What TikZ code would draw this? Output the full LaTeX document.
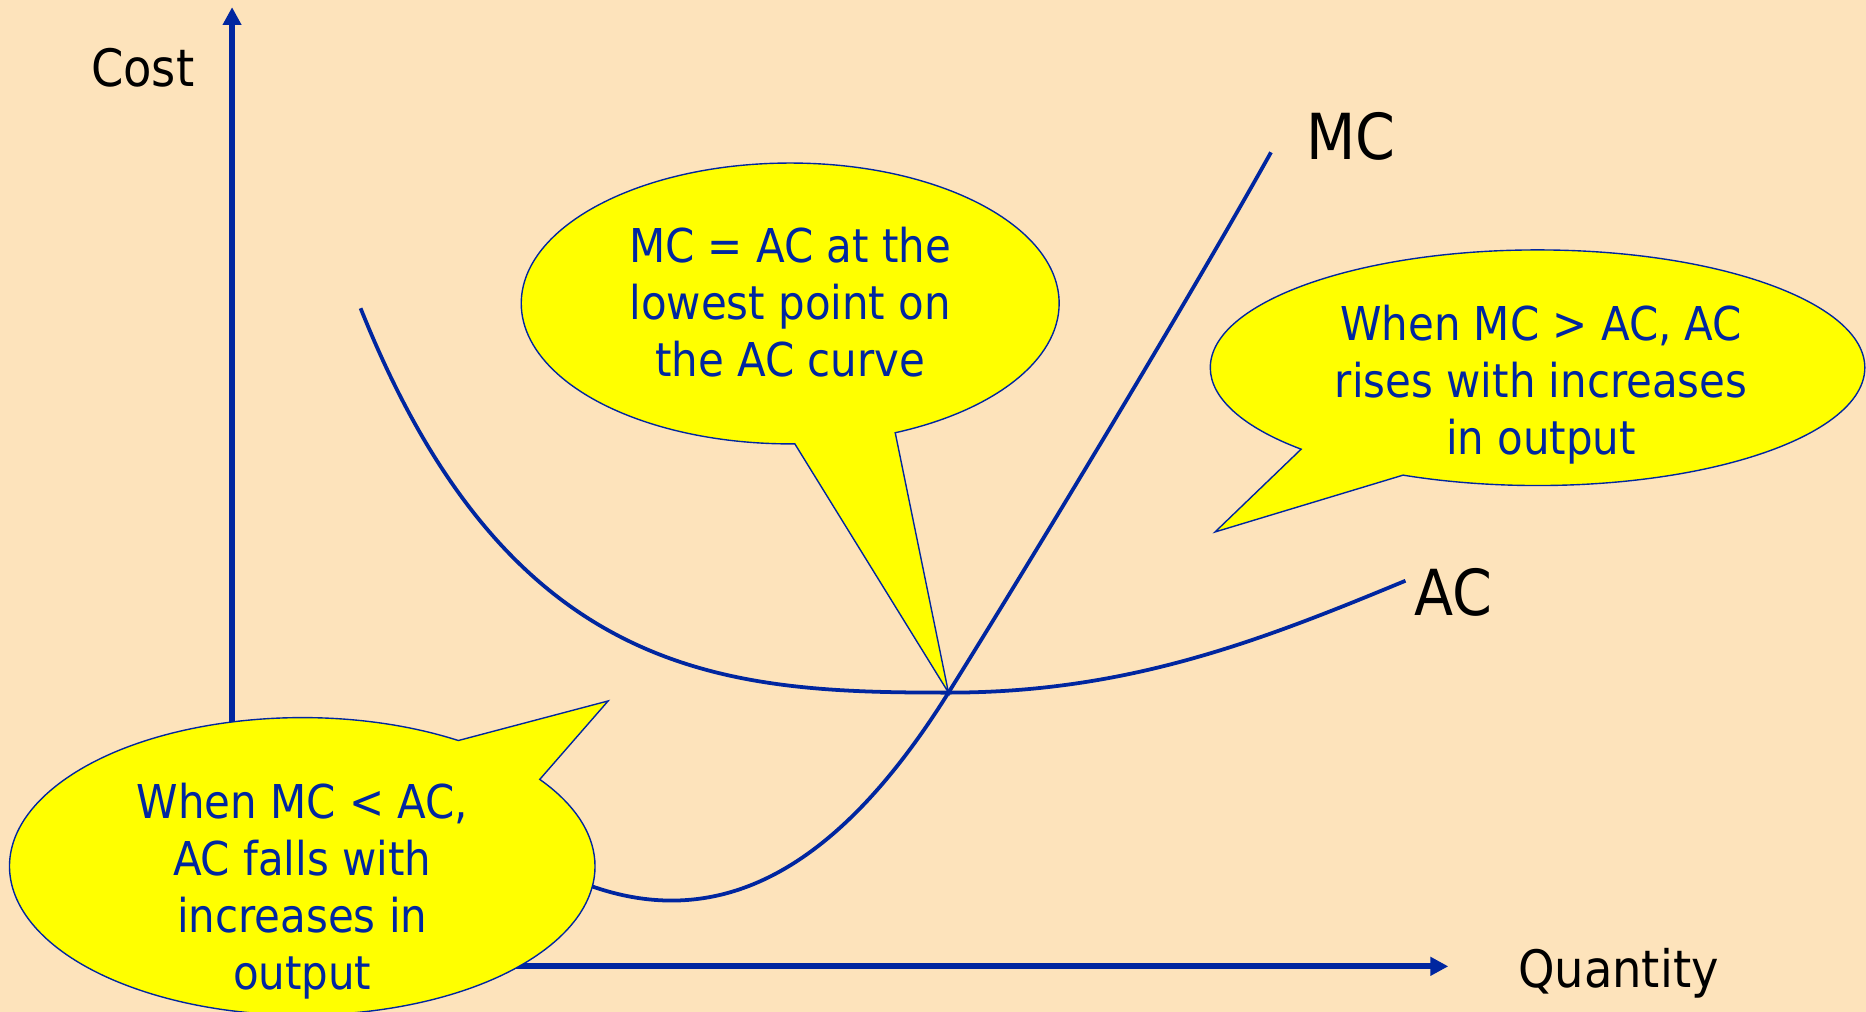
\documentclass[tikz,border=0pt]{standalone}
\usepackage{fontspec}
\setmainfont{DejaVu Sans Condensed}
\definecolor{peach}{RGB}{253,227,187}
\definecolor{inkblue}{RGB}{0,38,160}
\definecolor{calloutyellow}{RGB}{255,255,0}
\usetikzlibrary{arrows.meta,shapes.callouts}

\tikzset{
  axis line/.style={draw=inkblue, line width=3pt, -{Triangle[width=9pt,length=9pt]}},
  cost curve/.style={draw=inkblue, line width=1.9pt},
  bubble/.style={ellipse callout, draw=inkblue, line width=0.7pt, fill=calloutyellow,
                 callout pointer arc=22, inner sep=0pt},
  bubble text/.style={text=inkblue, align=center, font=\fontsize{23.5}{28.8}\selectfont},
  axis label/.style={font=\fontsize{26}{30}\selectfont},
  curve label/.style={font=\fontsize{32}{36}\selectfont}
}

\begin{document}
\begin{tikzpicture}[x=0.6pt, y=-0.6pt]
  \fill[peach] (0,0) rectangle (1568,850);
  \useasboundingbox (0,0) rectangle (1568,850);

  % axes
  \coordinate (origin) at (195,812);
  \coordinate (ytop) at (195,6);
  \coordinate (xend) at (1217,812);
  \draw[axis line] (origin) -- (ytop);
  \draw[axis line] (origin) -- (xend);
  \node[axis label] (cost) at (120,57) {Cost};
  \node[axis label] (qty) at (1360,818) {Quantity};

  % cost curves, crossing at the lowest point of AC
  \coordinate (eq) at (797,582);
  \coordinate (acStart) at (303,259);
  \coordinate (acEnd) at (1181,488);
  \coordinate (mcStart) at (480,738);
  \coordinate (mcEnd) at (1068,128);
  \draw[cost curve] (acStart) .. controls (428,572) and (610,582) .. (eq)
    .. controls (947,582) and (1058,539) .. (acEnd);
  \draw[cost curve] (mcStart) .. controls (605,792) and (707,726) .. (eq)
    .. controls (857,486) and (996,257) .. (mcEnd);
  \node[curve label] (mc) at (1135,115) {MC};
  \node[curve label] (ac) at (1221,498) {AC};

  % callouts
  \coordinate (riseTip) at (1021,447);
  \coordinate (fallTip) at (511,589);
  \node[bubble, minimum width=271.2pt, minimum height=141.6pt,
        callout absolute pointer={(eq)}] (lowBub) at (664,255) {};
  \node[bubble text] (lowTxt) at (664,254) {MC = AC at the\\lowest point on\\the AC curve};
  \node[bubble, minimum width=330pt, minimum height=118.8pt,
        callout absolute pointer={(riseTip)}] (riseBub) at (1292,309) {};
  \node[bubble text] (riseTxt) at (1295,323) {When MC > AC, AC\\rises with increases\\in output};
  \node[bubble, minimum width=295.2pt, minimum height=150pt,
        callout absolute pointer={(fallTip)}] (fallBub) at (254,728) {};
  \node[bubble text] (fallTxt) at (254,749) {When MC < AC,\\AC falls with\\increases in\\output};
\end{tikzpicture}
\end{document}
